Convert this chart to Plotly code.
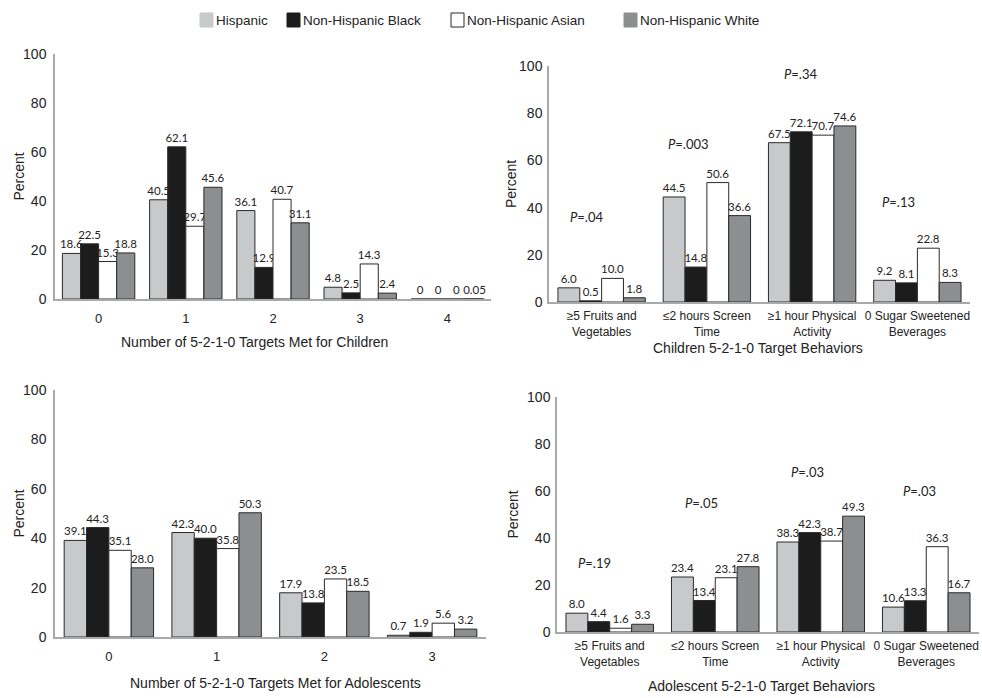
import plotly.graph_objects as go

# ---------------- data ----------------
groups = ["Hispanic", "Non-Hispanic Black", "Non-Hispanic Asian", "Non-Hispanic White"]
colors = ["#c8c9cb", "#1c1c1c", "#ffffff", "#8d8e90"]

count_cats_children = ["0", "1", "2", "3", "4"]
children_hispanic = [18.6, 40.5, 36.1, 4.8, 0]
children_black = [22.5, 62.1, 12.9, 2.5, 0]
children_asian = [15.3, 29.7, 40.7, 14.3, 0]
children_white = [18.8, 45.6, 31.1, 2.4, 0.05]

behavior_cats = ["≥5 Fruits and<br>Vegetables", "≤2 hours Screen<br>Time",
                 "≥1 hour Physical<br>Activity", "0 Sugar Sweetened<br>Beverages"]
child_beh_hispanic = [6.0, 44.5, 67.5, 9.2]
child_beh_black = [0.5, 14.8, 72.1, 8.1]
child_beh_asian = [10.0, 50.6, 70.7, 22.8]
child_beh_white = [1.8, 36.6, 74.6, 8.3]
child_p_values = [".04", ".003", ".34", ".13"]

count_cats_adol = ["0", "1", "2", "3"]
adol_hispanic = [39.1, 42.3, 17.9, 0.7]
adol_black = [44.3, 40.0, 13.8, 1.9]
adol_asian = [35.1, 35.8, 23.5, 5.6]
adol_white = [28.0, 50.3, 18.5, 3.2]

adol_beh_hispanic = [8.0, 23.4, 38.3, 10.6]
adol_beh_black = [4.4, 13.4, 42.3, 13.3]
adol_beh_asian = [1.6, 23.1, 38.7, 36.3]
adol_beh_white = [3.3, 27.8, 49.3, 16.7]
adol_p_values = [".19", ".05", ".03", ".03"]

x_titles = ["Number of 5-2-1-0 Targets Met for Children",
            "Children 5-2-1-0 Target Behaviors",
            "Number of 5-2-1-0 Targets Met for Adolescents",
            "Adolescent 5-2-1-0 Target Behaviors"]

# ---------------- layout helpers ----------------
W, H = 982, 698
def fx(px):
    return px / W
def fy(py):
    return 1 - py / H

panels = [
    dict(cats=count_cats_children,
         series=[children_hispanic, children_black, children_asian, children_white],
         fmt="{:g}", xd=(55, 491), yd=(299, 54), ystand=4, title_xy=(254, 342), ylab_x=18),
    dict(cats=behavior_cats,
         series=[child_beh_hispanic, child_beh_black, child_beh_asian, child_beh_white],
         fmt="{:.1f}", xd=(549, 970), yd=(302, 66), ystand=2, title_xy=(758, 348), ylab_x=511),
    dict(cats=count_cats_adol,
         series=[adol_hispanic, adol_black, adol_asian, adol_white],
         fmt="{:.1f}", xd=(55, 486), yd=(637, 390), ystand=4, title_xy=(275, 683), ylab_x=18),
    dict(cats=behavior_cats,
         series=[adol_beh_hispanic, adol_beh_black, adol_beh_asian, adol_beh_white],
         fmt="{:.1f}", xd=(557, 979), yd=(632, 397), ystand=2, title_xy=(761, 686), ylab_x=513),
]

FONT = "Liberation Sans, Arial, sans-serif"
label_font = dict(family="Lato, Open Sans, sans-serif", size=11.5, color="#222")

fig = go.Figure()
annotations = []
shapes = []
layout_axes = {}

for i, p in enumerate(panels):
    n = i + 1
    xa = "x" if n == 1 else f"x{n}"
    ya = "y" if n == 1 else f"y{n}"
    for g, (name, col, vals) in enumerate(zip(groups, colors, p["series"])):
        fig.add_trace(go.Bar(
            x=p["cats"], y=vals, name=name,
            marker=dict(color=col, line=dict(color="#2a2a2a", width=1)),
            text=[p["fmt"].format(v) for v in vals],
            textposition="outside", textfont=label_font,
            constraintext="none", cliponaxis=False,
            xaxis=xa, yaxis=ya, showlegend=False,
            hoverinfo="skip",
        ))
    short = len(p["cats"][0]) < 3
    xkey = "xaxis" if n == 1 else f"xaxis{n}"
    ykey = "yaxis" if n == 1 else f"yaxis{n}"
    layout_axes[xkey] = dict(
        domain=[fx(p["xd"][0]), fx(p["xd"][1])], anchor=ya, type="category",
        range=[-0.5, len(p["cats"]) - 0.5], showline=True, linecolor="#a9a9a9",
        linewidth=1.5, ticks="", showgrid=False, zeroline=False, automargin=False,
        tickfont=dict(family=FONT, size=13 if short else 12, color="#222"),
        ticklabelstandoff=7 if short else 2,
    )
    layout_axes[ykey] = dict(
        domain=[fy(p["yd"][0]), fy(p["yd"][1])], anchor=xa, range=[0, 100],
        tickvals=[0, 20, 40, 60, 80, 100], showline=True, linecolor="#a9a9a9",
        linewidth=1.5, ticks="", showgrid=False, zeroline=False, automargin=False,
        tickfont=dict(family=FONT, size=14, color="#222"),
        ticklabelstandoff=p["ystand"],
    )
    annotations.append(dict(
        text=x_titles[i], x=fx(p["title_xy"][0]), y=fy(p["title_xy"][1]),
        xref="paper", yref="paper", showarrow=False, xanchor="center", yanchor="middle",
        font=dict(family=FONT, size=14, color="#222")))
    annotations.append(dict(
        text="Percent", x=fx(p["ylab_x"]), y=(fy(p["yd"][0]) + fy(p["yd"][1])) / 2,
        xref="paper", yref="paper", showarrow=False, textangle=-90,
        xanchor="center", yanchor="middle",
        font=dict(family=FONT, size=14, color="#222")))

# P-value annotations
p_positions_child = [(-0.14, 36), (0.83, 67), (1.885, 96.5), (2.82, 42.5)]
p_positions_adol = [(-0.14, 29.5), (0.865, 55), (1.87, 68), (2.94, 60)]
pfont = dict(family="Lato, Open Sans, sans-serif", size=13, color="#222")
for (xv, yv), pv in zip(p_positions_child, child_p_values):
    annotations.append(dict(text=f"<i>P</i>={pv}", x=xv, y=yv, xref="x2", yref="y2",
                            showarrow=False, font=pfont))
for (xv, yv), pv in zip(p_positions_adol, adol_p_values):
    annotations.append(dict(text=f"<i>P</i>={pv}", x=xv, y=yv, xref="x4", yref="y4",
                            showarrow=False, font=pfont))

# legend (drawn manually to match the reference spacing)
legend_x = [200, 287, 451, 624]
for name, col, lx in zip(groups, colors, legend_x):
    shapes.append(dict(type="rect", xref="paper", yref="paper",
                       x0=fx(lx), x1=fx(lx + 13), y0=fy(27), y1=fy(13),
                       fillcolor=col, line=dict(color="#2a2a2a" if col == "#ffffff" else col, width=1)))
    annotations.append(dict(text=name, x=fx(lx + 14), y=fy(20), xref="paper", yref="paper",
                            xanchor="left", yanchor="middle", showarrow=False,
                            font=dict(family=FONT, size=13.5, color="#222")))

fig.update_layout(
    width=W, height=H, margin=dict(l=0, r=0, t=0, b=0, autoexpand=False),
    paper_bgcolor="white", plot_bgcolor="white",
    barmode="group", bargap=0.17, bargroupgap=0,
    showlegend=False,
    annotations=annotations, shapes=shapes,
    **layout_axes,
)

fig.write_html("out.html", config={"displayModeBar": False},
               post_script="document.body.style.margin='0px';")
